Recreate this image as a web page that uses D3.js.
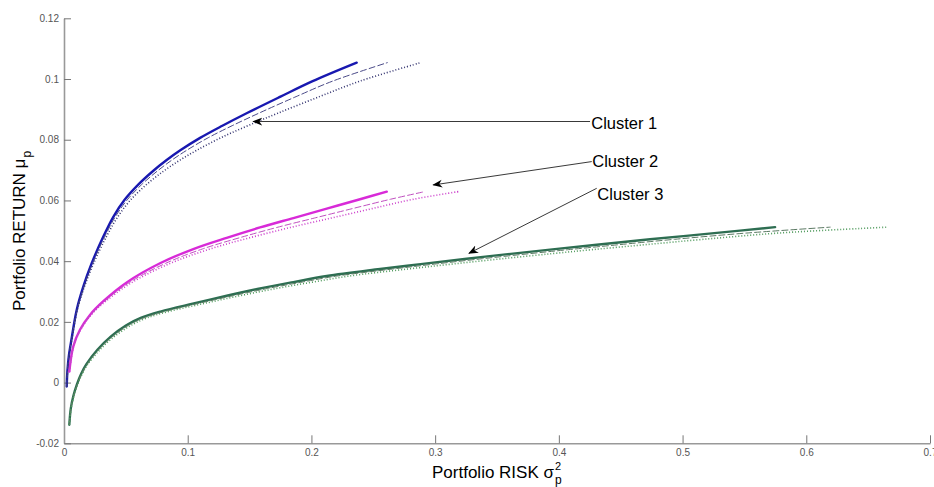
<!DOCTYPE html>
<html>
<head>
<meta charset="utf-8">
<script src="https://cdn.jsdelivr.net/npm/d3@7"></script>
<style>
  body { margin: 0; background: #fff; }
  svg { display: block; }
  .tick-label { font-family: "Liberation Sans Narrow", "Liberation Sans", Arial, sans-serif; font-size: 10px; fill: #555; }
  .title { font-family: "Liberation Sans", Arial, sans-serif; fill: #000; }
</style>
</head>
<body>
<svg id="chart" width="934" height="487"></svg>
<script>
/* DATA */
const xTicks = [0, 0.1, 0.2, 0.3, 0.4, 0.5, 0.6, 0.7];
const yTicks = [-0.02, 0, 0.02, 0.04, 0.06, 0.08, 0.1, 0.12];

// cluster 1 (blue)
const c1Return = [-0.0013, 0.0040, 0.0090, 0.0141, 0.0240, 0.0316, 0.0393, 0.0481, 0.0547, 0.0602,
                  0.0652, 0.0697, 0.0733, 0.0765, 0.0806, 0.0846, 0.0888, 0.0942, 0.0993, 0.1054];
const c1RiskSolid = [0.0022, 0.0028, 0.0040, 0.0060, 0.0103, 0.0156, 0.0224, 0.0318, 0.0400, 0.0490,
                     0.0600, 0.0720, 0.0830, 0.0940, 0.1100, 0.1280, 0.1480, 0.1750, 0.2010, 0.2366];
const c1RiskDashed = [0.0022, 0.0028, 0.0041, 0.0061, 0.0106, 0.0161, 0.0231, 0.0329, 0.0416, 0.0511,
                      0.0627, 0.0755, 0.0872, 0.0991, 0.1163, 0.1358, 0.1578, 0.1876, 0.2171, 0.2614];
const c1RiskDotted = [0.0022, 0.0029, 0.0041, 0.0062, 0.0108, 0.0165, 0.0240, 0.0343, 0.0436, 0.0539,
                      0.0666, 0.0806, 0.0938, 0.1072, 0.1265, 0.1485, 0.1732, 0.2065, 0.2392, 0.2884];

// cluster 2 (magenta)
const c2Return = [0.0036, 0.0119, 0.0174, 0.0223, 0.0268, 0.0330, 0.0393, 0.0440, 0.0477, 0.0511,
                  0.0542, 0.0573, 0.0604, 0.0629];
const c2RiskSolid = [0.0043, 0.0075, 0.0129, 0.0210, 0.0318, 0.0507, 0.0776, 0.1045, 0.1315, 0.1585,
                     0.1854, 0.2124, 0.2393, 0.2609];
const c2RiskDashed = [0.0043, 0.0076, 0.0131, 0.0215, 0.0328, 0.0530, 0.0822, 0.1118, 0.1418, 0.1720,
                      0.2024, 0.2330, 0.2640, 0.2915];
const c2RiskDotted = [0.0044, 0.0077, 0.0134, 0.0220, 0.0338, 0.0550, 0.0860, 0.1180, 0.1500, 0.1830,
                      0.2160, 0.2490, 0.2825, 0.3188];

// cluster 3 (green)
const c3Return = [-0.0139, -0.0085, -0.0045, -0.0005, 0.0030, 0.0060, 0.0108, 0.0152, 0.0188, 0.0213,
                  0.0234, 0.0260, 0.0286, 0.0310, 0.0331, 0.0351, 0.0374, 0.0391, 0.0408, 0.0425,
                  0.0438, 0.0454, 0.0472, 0.0493, 0.0512];
const c3RiskSolid = [0.0043, 0.0055, 0.0075, 0.0105, 0.0140, 0.0180, 0.0270, 0.0380, 0.0500, 0.0620,
                     0.0780, 0.1040, 0.1315, 0.1585, 0.1854, 0.2124, 0.2555, 0.2900, 0.3255, 0.3630,
                     0.3929, 0.4306, 0.4737, 0.5277, 0.5748];
const c3RiskDashed = [0.0043, 0.0056, 0.0077, 0.0108, 0.0144, 0.0186, 0.0280, 0.0394, 0.0520, 0.0645,
                      0.0812, 0.1080, 0.1365, 0.1645, 0.1925, 0.2205, 0.2655, 0.3010, 0.3380, 0.3770,
                      0.4080, 0.4480, 0.4935, 0.5530, 0.6193];
const c3RiskDotted = [0.0043, 0.0057, 0.0079, 0.0111, 0.0149, 0.0192, 0.0290, 0.0408, 0.0540, 0.0670,
                      0.0845, 0.1125, 0.1420, 0.1715, 0.2010, 0.2305, 0.2775, 0.3150, 0.3540, 0.3950,
                      0.4270, 0.4690, 0.5170, 0.5790, 0.6656];

// annotations: label, text baseline start, arrow start, arrow tip (risk, return)
const noteLabels = ["Cluster 1", "Cluster 2", "Cluster 3"];
const noteText = [[0.4262, 0.0836], [0.4270, 0.0710], [0.4311, 0.0602]];
const noteFrom = [[0.4252, 0.0860], [0.4266, 0.0728], [0.4306, 0.0640]];
const noteTo = [[0.1530, 0.0860], [0.2985, 0.0651], [0.3274, 0.0426]];

/* SERIES */
const series = [
  { ret: c1Return, risk: c1RiskSolid,  color: "#1818b0", width: 2.4, dash: null },
  { ret: c1Return, risk: c1RiskDashed, color: "#4a4a88", width: 1,   dash: "6,3" },
  { ret: c1Return, risk: c1RiskDotted, color: "#333370", width: 1.6, dash: "1,2" },
  { ret: c2Return, risk: c2RiskSolid,  color: "#d82ad8", width: 2.4, dash: null },
  { ret: c2Return, risk: c2RiskDashed, color: "#c050c0", width: 1,   dash: "6,3" },
  { ret: c2Return, risk: c2RiskDotted, color: "#cc40cc", width: 1.6, dash: "1,2" },
  { ret: c3Return, risk: c3RiskSolid,  color: "#2e6e52", width: 2.4, dash: null },
  { ret: c3Return, risk: c3RiskDashed, color: "#5c7a64", width: 1,   dash: "6,3" },
  { ret: c3Return, risk: c3RiskDotted, color: "#4f9a5c", width: 1.6, dash: "1,2" },
];

const svg = d3.select("#chart");
const plotLeft = 64, plotRight = 930, plotTop = 18.3, plotBottom = 443.3;

const x = d3.scaleLinear().domain([0, 0.7]).range([plotLeft, plotRight]);
const y = d3.scaleLinear().domain([-0.02, 0.12]).range([plotBottom, plotTop]);

// axes (ticks point inward like matlab)
const xAxis = svg.append("g").attr("transform", `translate(0,${plotBottom})`)
  .call(d3.axisBottom(x).tickValues(xTicks).tickSizeInner(-8).tickSizeOuter(0).tickPadding(4)
    .tickFormat(d => String(d)));
const yAxis = svg.append("g").attr("transform", `translate(${plotLeft},0)`)
  .call(d3.axisLeft(y).tickValues(yTicks).tickSizeInner(-7).tickSizeOuter(0).tickPadding(4)
    .tickFormat(d => String(d)));

[xAxis, yAxis].forEach(ax => {
  ax.select(".domain").attr("stroke", "#999").attr("stroke-width", 1.6);
  ax.selectAll(".tick line").attr("stroke", "#777").attr("stroke-width", 1);
  ax.selectAll(".tick text").attr("class", "tick-label").attr("fill", null);
});
xAxis.selectAll(".tick text").attr("dy", "0.9em");
yAxis.selectAll(".tick text").attr("dx", "-0.1em");

/* CURVES */
const line = d3.line()
  .x(d => x(d[0]))
  .y(d => y(d[1]))
  .curve(d3.curveCatmullRom.alpha(0.5));

svg.append("g").selectAll("path")
  .data(series)
  .join("path")
  .attr("d", s => line(s.risk.map((r, i) => [r, s.ret[i]])))
  .attr("fill", "none")
  .attr("stroke", s => s.color)
  .attr("stroke-width", s => s.width)
  .attr("stroke-dasharray", s => s.dash)
  .attr("stroke-linecap", s => s.dash === "1,2" ? "butt" : "round");

/* ANNOTATIONS */
svg.append("defs").append("marker")
  .attr("id", "arrow")
  .attr("viewBox", "0 0 10 10")
  .attr("refX", 9).attr("refY", 5)
  .attr("markerWidth", 10).attr("markerHeight", 10)
  .attr("markerUnits", "userSpaceOnUse")
  .attr("orient", "auto")
  .append("path")
  .attr("d", "M0,1 L10,5 L0,9 L3,5 Z")
  .attr("fill", "#000");

const notes = svg.append("g");
noteLabels.forEach((label, i) => {
  const [fx, fy] = noteFrom[i];
  const [tx, ty] = noteTo[i];
  notes.append("line")
    .attr("x1", x(fx)).attr("y1", y(fy))
    .attr("x2", x(tx)).attr("y2", y(ty))
    .attr("stroke", "#222").attr("stroke-width", 0.9)
    .attr("marker-end", "url(#arrow)");
  notes.append("text")
    .attr("class", "title")
    .attr("x", x(noteText[i][0])).attr("y", y(noteText[i][1]))
    .attr("font-size", 16.5)
    .text(label);
});

/* AXIS TITLES */
function mathTitle(g, main, sub, sup) {
  const t = g.append("text").attr("class", "title").attr("font-size", 17).text(main);
  const w = t.node().getComputedTextLength();
  g.append("text").attr("class", "title").attr("font-size", 12)
    .attr("x", w + 1).attr("y", 6).text(sub);
  if (sup) {
    g.append("text").attr("class", "title").attr("font-size", 11)
      .attr("x", w + 1).attr("y", -8.5).text(sup);
  }
  return w + 8;
}

const xTitle = svg.append("g");
const xw = mathTitle(xTitle, "Portfolio RISK \u03c3", "p", "2");
xTitle.attr("transform", `translate(${(plotLeft + plotRight) / 2 - xw / 2},478)`);

const yTitle = svg.append("g");
const yw = mathTitle(yTitle, "Portfolio RETURN \u03bc", "p", null);
yTitle.attr("transform", `translate(25,${(plotTop + plotBottom) / 2 + yw / 2}) rotate(-90)`);
</script>
</body>
</html>
